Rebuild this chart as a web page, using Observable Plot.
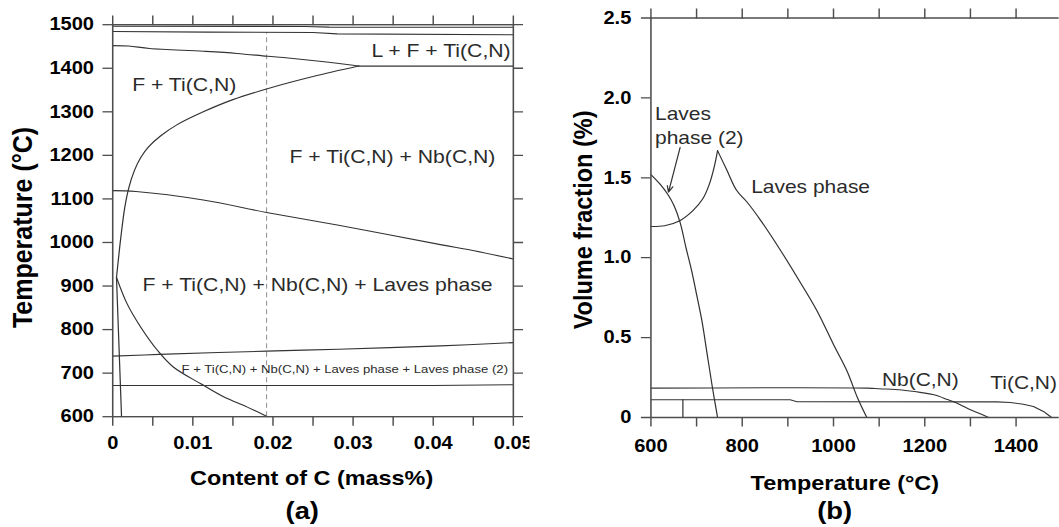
<!DOCTYPE html>
<html>
<head>
<meta charset="utf-8">
<script src="https://cdn.jsdelivr.net/npm/d3@7"></script>
<script src="https://cdn.jsdelivr.net/npm/@observablehq/plot@0.6"></script>
<style>
  html, body { margin: 0; padding: 0; background: #fff; }
  /* the figure is set in a horizontally widened face, as in the printed original */
  #figure { display: flex; width: 949.8px; transform: scaleX(1.115); transform-origin: 0 0; }
  #figure svg { flex: none; max-width: none; }
</style>
</head>
<body>
<div id="figure"></div>
<script>
// ---------- (a) calculated phase diagram: [C content (mass%), temperature (°C)] ----------
const liquidus        = [[0, 1496.5], [0.024, 1496], [0.027, 1494.5], [0.05, 1494]];
const solidus         = [[0, 1484.5], [0.012, 1483], [0.025, 1482], [0.028, 1479], [0.05, 1477]];
const tiCNSolvus      = [[0, 1452], [0.002, 1451], [0.0046, 1445.5], [0.0113, 1439], [0.0155, 1434],
                         [0.0193, 1427.5], [0.0219, 1423.5], [0.0261, 1415.5], [0.0307, 1405]];
const liquidTiFloor   = [[0.0307, 1405], [0.05, 1405]];
const nbCNSolvus      = [[0.0307, 1405], [0.025, 1381], [0.0193, 1353], [0.015, 1328], [0.0113, 1300],
                         [0.008, 1270], [0.006, 1245], [0.0045, 1220], [0.0035, 1195], [0.0027, 1165],
                         [0.002, 1125], [0.0015, 1080], [0.001, 1010], [0.0007, 960], [0.00047, 920]];
const nbCNLowBranch   = [[0.00047, 920], [0.0011, 600]];
const lavesSolvus     = [[0.00047, 920], [0.0018, 859], [0.0035, 805.5], [0.0056, 752], [0.0076, 713.5],
                         [0.011, 675.5], [0.0139, 645], [0.0168, 622], [0.0193, 600]];
const lavesUpper      = [[0, 1119], [0.0029, 1117], [0.0113, 1097.5], [0.0192, 1069], [0.0282, 1039.5],
                         [0.0409, 995], [0.0451, 981], [0.05, 962]];
const laves2Upper     = [[0, 739], [0.0058, 743], [0.0192, 750.5], [0.0282, 755], [0.0409, 762.5], [0.05, 770]];
const laves2Lower     = [[0, 671.5], [0.04, 671.5], [0.05, 673.5]];
const steelC          = 0.0192;   // composition of the steel (dashed section)

const aTickC       = [0, 0.005, 0.01, 0.015, 0.02, 0.025, 0.03, 0.035, 0.04, 0.045, 0.05];
const aTickCLabels = ["0", "", "0.01", "", "0.02", "", "0.03", "", "0.04", "", "0.05"];
const aTickT       = [600, 700, 800, 900, 1000, 1100, 1200, 1300, 1400, 1500];
const aTickTLabels = ["600", "700", "800", "900", "1000", "1100", "1200", "1300", "1400", "1500"];

const aRegionsStart = [
  {c: 0.00243, t: 1347, label: "F + Ti(C,N)"},
  {c: 0.02207, t: 1183, label: "F + Ti(C,N) + Nb(C,N)"},
  {c: 0.00372, t: 889,  label: "F + Ti(C,N) + Nb(C,N) + Laves phase"}
];
const aRegionsEnd   = [{c: 0.04966, t: 1425.5, label: "L + F + Ti(C,N)"}];
const aRegionsSmall = [{c: 0.00858, t: 700, label: "F + Ti(C,N) + Nb(C,N) + Laves phase + Laves phase (2)"}];

// ---------- (b) equilibrium volume fraction of precipitates: [temperature (°C), vol. %] ----------
const laves2Fraction   = [[600, 1.52], [620, 1.46], [636, 1.4], [650, 1.33], [664, 1.22], [677, 1.06],
                          [689, 0.92], [700, 0.77], [712, 0.6], [723, 0.4], [734, 0.2], [746, 0]];
const lavesRise        = [[600, 1.195], [630, 1.2], [662, 1.23], [692, 1.295], [714, 1.37], [728, 1.46],
                          [738, 1.56], [746, 1.67]];
const lavesFall        = [[746, 1.67], [766, 1.55], [788, 1.42], [810, 1.35], [840, 1.235], [883, 1.05],
                          [922, 0.87], [964, 0.667], [1000, 0.457], [1030, 0.288], [1053, 0.12], [1073, 0]];
const nbCNFraction     = [[600, 0.184], [1075, 0.184], [1100, 0.18], [1150, 0.172], [1190, 0.157],
                          [1220, 0.142], [1250, 0.112], [1270, 0.09], [1295, 0.055], [1320, 0.025], [1340, 0]];
const tiCNFraction     = [[600, 0.111], [905, 0.111], [920, 0.099], [1358, 0.098], [1387, 0.094],
                          [1416, 0.083], [1438, 0.069], [1460, 0.038], [1475, 0.006], [1478, 0]];
const laves2Onset      = [[670, 0], [670, 0.111]];
const laves2Pointer    = [{t1: 664, v1: 1.69, t2: 638.5, v2: 1.41}];

const bTickT       = [600, 700, 800, 900, 1000, 1100, 1200, 1300, 1400];
const bTickTLabels = ["600", "", "800", "", "1000", "", "1200", "", "1400"];
const bTickV       = [0, 0.5, 1, 1.5, 2, 2.5];
const bTickVLabels = ["0", "0.5", "1.0", "1.5", "2.0", "2.5"];

const bCurveLabels = [
  {t: 609, v: 1.712, label: "Laves\nphase (2)"}
];
const bCurveLabels1 = [
  {t: 819.6, v: 1.403, label: "Laves phase"},
  {t: 1106,  v: 0.198, label: "Nb(C,N)"},
  {t: 1343.4, v: 0.178, label: "Ti(C,N)"}
];

// ---------- drawing ----------
const font = "'Liberation Sans', Arial, Helvetica, sans-serif";
const axisGrey = "#4d4d4d";
const ink = "#333";
const P = d => d[0], Q = d => d[1];
const curve = (pts, kind = "linear") => Plot.line(pts, {x: P, y: Q, curve: kind, stroke: ink, strokeWidth: 1.1});
const lookup = (ticks, labels) => d => labels[ticks.indexOf(d)] ?? "";
const tickText = {fontSize: 18, fontWeight: "bold", fill: "#000", stroke: axisGrey, strokeWidth: 1.3, label: null};
const bareTicks = {fill: "none", stroke: axisGrey, strokeWidth: 1.3, label: null};
const regionText = {fontSize: 19, fill: "#2b2b2b", lineAnchor: "bottom"};

const panelA = Plot.plot({
  width: 475.3, height: 527,
  marginLeft: 100.6, marginRight: 15.4, marginTop: 24.2, marginBottom: 110.8,
  style: {fontFamily: font, background: "white", color: "#000"},
  x: {domain: [0, 0.05], label: null},
  y: {domain: [600, 1500], label: null},
  marks: [
    Plot.ruleX([steelC], {y1: 600, y2: 1482, stroke: "#9a9a9a", strokeWidth: 1, strokeDasharray: "5,3.5"}),
    curve(liquidus), curve(solidus),
    curve(tiCNSolvus, "catmull-rom"), curve(liquidTiFloor),
    curve(nbCNSolvus, "catmull-rom"), curve(nbCNLowBranch),
    curve(lavesSolvus, "catmull-rom"),
    curve(lavesUpper, "catmull-rom"), curve(laves2Upper, "catmull-rom"), curve(laves2Lower),
    Plot.text(aRegionsStart, {x: "c", y: "t", text: "label", textAnchor: "start", ...regionText}),
    Plot.text(aRegionsEnd, {x: "c", y: "t", text: "label", textAnchor: "end", ...regionText}),
    Plot.text(aRegionsSmall, {x: "c", y: "t", text: "label", textAnchor: "start", ...regionText, fontSize: 11.8}),
    Plot.frame({stroke: axisGrey, strokeWidth: 1.4}),
    Plot.axisX({anchor: "bottom", ticks: aTickC, tickFormat: lookup(aTickC, aTickCLabels), tickSize: 9.5, tickPadding: 10, ...tickText}),
    Plot.axisX({anchor: "top", ticks: aTickC, tickSize: 9.8, ...bareTicks}),
    Plot.axisY({anchor: "left", ticks: aTickT, tickFormat: lookup(aTickT, aTickTLabels), tickSize: 8.7, tickPadding: 8.1, ...tickText}),
    Plot.axisY({anchor: "right", ticks: aTickT, tickSize: 8.2, ...bareTicks}),
    Plot.text(["Content of C (mass%)"], {frameAnchor: "bottom", textAnchor: "middle", lineAnchor: "bottom", dx: -1.3, dy: 68.4, fontSize: 21, fontWeight: "bold", fill: "#000"}),
    Plot.text(["(a)"], {frameAnchor: "bottom", textAnchor: "middle", lineAnchor: "bottom", dx: -9.7, dy: 102.3, fontSize: 24.5, fontWeight: "bold", fill: "#000"}),
    Plot.text(["Temperature (°C)"], {frameAnchor: "left", textAnchor: "middle", lineAnchor: "middle", rotate: -90, dx: -80.2, dy: 6.8, fontSize: 25, fontWeight: "bold", fill: "#000"})
  ]
});

const panelB = Plot.plot({
  width: 474.5, height: 527,
  marginLeft: 108.3, marginRight: 0, marginTop: 17.5, marginBottom: 110,
  style: {fontFamily: font, background: "white", color: "#000"},
  x: {domain: [600, 1494.6], label: null},
  y: {domain: [0, 2.5], label: null},
  marks: [
    curve(laves2Fraction, "catmull-rom"),
    curve(lavesRise, "catmull-rom"), curve(lavesFall, "catmull-rom"),
    curve(nbCNFraction, "catmull-rom"), curve(tiCNFraction),
    curve(laves2Onset),
    Plot.arrow(laves2Pointer, {x1: "t1", y1: "v1", x2: "t2", y2: "v2", stroke: ink, strokeWidth: 1.1, headLength: 9, headAngle: 45}),
    Plot.text(bCurveLabels, {x: "t", y: "v", text: "label", textAnchor: "start", lineHeight: 1.27, ...regionText, fontSize: 18.8}),
    Plot.text(bCurveLabels1, {x: "t", y: "v", text: "label", textAnchor: "start", ...regionText, fontSize: 18.8}),
    Plot.ruleX([600], {stroke: axisGrey, strokeWidth: 1.4}),
    Plot.ruleY([0, 2.5], {stroke: axisGrey, strokeWidth: 1.4}),
    Plot.axisX({anchor: "bottom", ticks: bTickT, tickFormat: lookup(bTickT, bTickTLabels), tickSize: 9.4, tickPadding: 12.1, ...tickText}),
    Plot.axisX({anchor: "top", ticks: bTickT, tickSize: 10, ...bareTicks}),
    Plot.axisY({anchor: "left", ticks: bTickV, tickFormat: lookup(bTickV, bTickVLabels), tickSize: 8.5, tickPadding: 9.1, ...tickText}),
    Plot.text(["Temperature (°C)"], {frameAnchor: "bottom", textAnchor: "middle", lineAnchor: "bottom", dx: -9.2, dy: 72.2, fontSize: 21, fontWeight: "bold", fill: "#000"}),
    Plot.text(["(b)"], {frameAnchor: "bottom", textAnchor: "middle", lineAnchor: "bottom", dx: -18.3, dy: 101.5, fontSize: 24.5, fontWeight: "bold", fill: "#000"}),
    Plot.text(["Volume fraction (%)"], {frameAnchor: "left", textAnchor: "middle", lineAnchor: "middle", rotate: -90, dx: -60.7, dy: 2.2, fontSize: 23.5, fontWeight: "bold", fill: "#000"})
  ]
});

document.getElementById("figure").append(panelA, panelB);
</script>
</body>
</html>
